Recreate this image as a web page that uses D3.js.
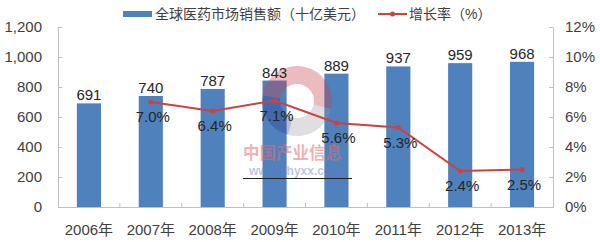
<!DOCTYPE html>
<html><head><meta charset="utf-8">
<script src="https://cdn.jsdelivr.net/npm/d3@7"></script>
<style>
html,body{margin:0;padding:0;background:#fff;}
svg{display:block;}
text{font-family:"Liberation Sans","Noto Sans CJK SC",sans-serif;}
</style></head>
<body>
<svg id="chart" width="600" height="242"></svg>
<script>
const years = ["2006年","2007年","2008年","2009年","2010年","2011年","2012年","2013年"];
const sales = [691,740,787,843,889,937,959,968];
const growthYears = ["2007年","2008年","2009年","2010年","2011年","2012年","2013年"];
const growth = [7.0,6.4,7.1,5.6,5.3,2.4,2.5];
const leftTicks = [0,200,400,600,800,1000,1200];
const rightTicks = [0,2,4,6,8,10,12];
const seriesNames = ["全球医药市场销售额（十亿美元）","增长率（%）"];

const svg = d3.select("#chart");
const m = {left:58, right:47, top:27, bottom:35};
const W = 600, H = 242;
const x = d3.scaleBand().domain(years).range([m.left, W - m.right]).paddingInner(0.61).paddingOuter(0.305);
const xc = d3.scaleBand().domain(years).range([m.left, W - m.right]);
const yL = d3.scaleLinear().domain([0,1200]).range([H - m.bottom, m.top]);
const yR = d3.scaleLinear().domain([0,12]).range([H - m.bottom, m.top]);
const axisColor = "#bfbfbf", textColor = "#404040";

// bars
svg.append("g").selectAll("rect").data(sales).join("rect")
  .attr("x",(d,i)=>x(years[i])).attr("width",x.bandwidth())
  .attr("y",d=>yL(d)).attr("height",d=>yL(0)-yL(d))
  .attr("fill","#4f81bd");

// left axis
const gL = svg.append("g").attr("transform",`translate(${m.left},0)`)
  .call(d3.axisLeft(yL).tickValues(leftTicks).tickFormat(d3.format(",")).tickSizeInner(-4).tickSizeOuter(0).tickPadding(16));
// right axis
const gR = svg.append("g").attr("transform",`translate(${W-m.right},0)`)
  .call(d3.axisRight(yR).tickValues(rightTicks).tickFormat(d=>d+"%").tickSizeInner(-4).tickSizeOuter(0).tickPadding(12));
// x axis
const gX = svg.append("g").attr("transform",`translate(0,${H-m.bottom})`)
  .call(d3.axisBottom(xc).tickSize(0).tickPadding(17));
gX.selectAll(".tick line").remove();
[gL,gR,gX].forEach(g=>{
  g.select(".domain").attr("stroke",axisColor);
  g.selectAll(".tick line").attr("stroke",axisColor);
  g.selectAll("text").attr("fill",textColor).attr("font-size",15);
});
// x category separators (inside ticks)
svg.append("g").selectAll("line").data(years.slice(1)).join("line")
  .attr("x1",d=>xc(d)).attr("x2",d=>xc(d))
  .attr("y1",yL(0)).attr("y2",yL(0)-4).attr("stroke",axisColor);

// watermark
const wm = svg.append("g").attr("transform","translate(297,101)");
const arc = d3.arc().innerRadius(17).outerRadius(35);
wm.append("path").attr("d",arc({startAngle:-1.4,endAngle:1.8})).attr("fill","rgba(200,60,70,0.35)");
wm.append("path").attr("d",arc({startAngle:1.8,endAngle:3.4})).attr("fill","rgba(150,150,160,0.3)");
wm.append("path").attr("d",arc({startAngle:3.4,endAngle:4.88})).attr("fill","rgba(40,60,140,0.35)");
svg.append("text").attr("x",243).attr("y",159).attr("font-size",16.5).attr("font-weight","bold")
  .attr("font-family","Noto Sans CJK SC").attr("fill","rgba(225,110,110,0.55)").text("中国产业信息");
svg.append("text").attr("x",249).attr("y",175).attr("font-size",12).attr("font-weight","bold")
  .attr("fill","rgba(110,120,200,0.45)").text("www.chyxx.com");
svg.append("line").attr("x1",243).attr("x2",352).attr("y1",178.5).attr("y2",178.5).attr("stroke","#222").attr("stroke-width",1);

// line
const line = d3.line().x((d,i)=>xc(growthYears[i])+xc.bandwidth()/2).y(d=>yR(d));
svg.append("path").datum(growth).attr("d",line).attr("fill","none").attr("stroke","#d0403f").attr("stroke-width",2);
svg.append("g").selectAll("circle").data(growth).join("circle")
  .attr("cx",(d,i)=>xc(growthYears[i])+xc.bandwidth()/2).attr("cy",d=>yR(d)).attr("r",2.5).attr("fill","#d0403f");

// bar labels
svg.append("g").selectAll("text").data(sales).join("text")
  .attr("x",(d,i)=>x(years[i])+x.bandwidth()/2).attr("y",d=>yL(d)-3)
  .attr("text-anchor","middle").attr("font-size",15).attr("fill","#262626").text(d=>d);
// growth labels
svg.append("g").selectAll("text").data(growth).join("text")
  .attr("x",(d,i)=>xc(growthYears[i])+xc.bandwidth()/2+2).attr("y",d=>yR(d)+20)
  .attr("text-anchor","middle").attr("font-size",15).attr("fill","#262626").text(d=>d.toFixed(1)+"%");

// legend
const lg = svg.append("g");
lg.append("rect").attr("x",123).attr("y",11).attr("width",29).attr("height",6).attr("fill","#4f81bd");
lg.append("text").attr("x",155).attr("y",19).attr("font-size",14).attr("fill",textColor)
  .attr("font-family","Noto Sans CJK SC").text(seriesNames[0]);
lg.append("line").attr("x1",378).attr("x2",407).attr("y1",14).attr("y2",14).attr("stroke","#d0403f").attr("stroke-width",2);
lg.append("circle").attr("cx",392.5).attr("cy",14).attr("r",2.5).attr("fill","#d0403f");
lg.append("text").attr("x",409).attr("y",19).attr("font-size",14).attr("fill",textColor)
  .attr("font-family","Noto Sans CJK SC").text(seriesNames[1]);
</script>
</body></html>
